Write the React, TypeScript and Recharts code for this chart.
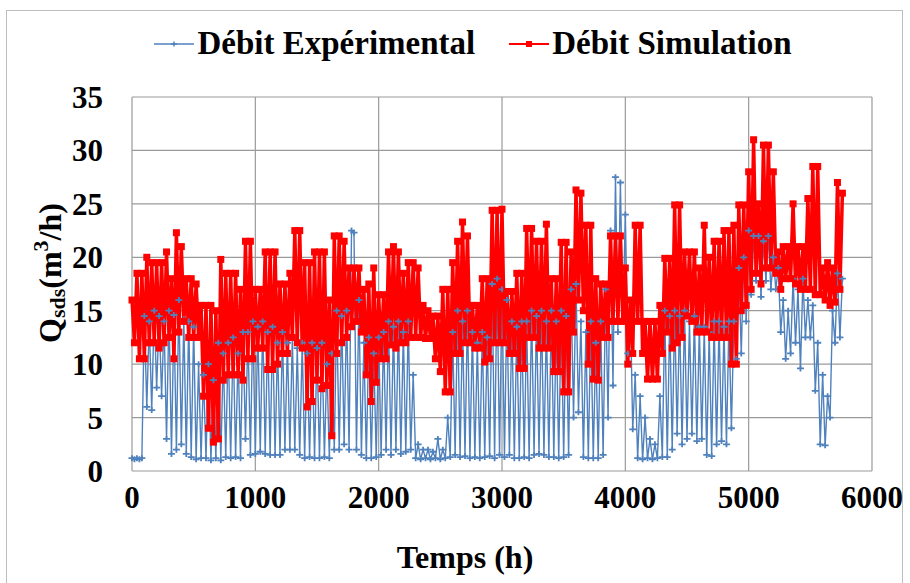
import { LineChart, Line, XAxis, YAxis, CartesianGrid, Legend, Label } from 'recharts';

// one reading every 20 h, from t = 0 h to t = 5760 h
const STEP_H = 20;

const debitSimulation = [
  16, 12, 18.5, 10.5, 18.5, 10.5, 20, 12, 19.5, 12,
  19.5, 11.5, 19.5, 12, 20.5, 12.5, 18, 10.5, 22.3, 13,
  21, 14, 18, 12.5, 18, 12.5, 17.5, 12.5, 15.5, 7,
  15.5, 4, 15.5, 2.7, 15, 3, 19.8, 8.5, 18.5, 9,
  18.5, 9, 18.5, 9, 17, 8.5, 21.5, 10.5, 21.5, 10.5,
  17, 11.5, 17, 11.5, 20.5, 9.5, 20.5, 9.5, 20.5, 10,
  17.5, 11, 17.5, 11, 18.5, 12.5, 22.5, 12, 22.5, 11.5,
  19.5, 6, 19.5, 6.5, 20.5, 8.5, 20.5, 7.7, 20.5, 8,
  16, 3.3, 22, 11, 22, 12, 21.5, 12.5, 19, 13.5,
  19, 14, 19, 13, 17, 9, 17.5, 6.5, 19, 8.3,
  16.5, 10.5, 16.5, 10.5, 20.5, 11.8, 21, 11.5, 20.5, 12,
  18.5, 12, 19.5, 12.5, 19.5, 12.5, 19, 12.5, 15.5, 12.4,
  15, 12.4, 14.5, 10.5, 14.5, 9.3, 17, 7.4, 17, 7.4,
  19.5, 11, 21.5, 11, 23.3, 12, 22, 12, 15.5, 11.5,
  15.5, 11.5, 18, 10.2, 18, 10.5, 24.4, 12, 24.4, 12,
  24.5, 12, 16.8, 11, 16.8, 11, 18.5, 9.6, 18.5, 9.6,
  22.7, 12.5, 22.7, 12.5, 21.5, 11.5, 21.5, 11.5, 23.1, 11.5,
  18, 9.3, 18, 9.3, 21.4, 7.4, 21.4, 7.4, 20.5, 13,
  26.3, 16, 26, 15, 23, 10, 23, 8.6, 18, 8.5,
  17.5, 12.5, 17.5, 12.5, 22, 14, 22, 14, 22, 14,
  19, 10, 16, 11, 23, 14, 23, 11, 14, 8.6,
  14, 8.6, 14, 8.6, 15.5, 11, 19.9, 13, 19.9, 11.5,
  24.9, 12, 24.9, 12.5, 20.5, 14.5, 20.5, 14, 20.5, 13,
  19, 13, 23, 13, 20, 12.5, 21.5, 12.5, 21.5, 12.5,
  22.5, 12.5, 22.5, 10, 23, 10, 24.9, 15, 24.9, 15.5,
  28, 17, 31, 18.5, 25, 17.5, 30.5, 19, 30.5, 19,
  28, 18.5, 20.5, 17, 21, 18, 21, 18, 25, 17.5,
  21, 17, 21, 17, 25.5, 17, 28.5, 16.5, 28.5, 16.5,
  19, 16, 19.5, 15.5, 19, 15.8, 27, 17, 26,
];

const debitExperimental = [
  1.2, 1.1, 1.2, 1.1, 1.2, 14.5, 6, 14, 5.7, 15,
  7.8, 14.5, 7, 14, 3, 15, 1.6, 14.6, 2, 16,
  2.5, 14.2, 1.6, 14, 1.3, 13.5, 1.1, 10, 1.2, 9,
  1.2, 10, 1, 8.5, 1.2, 12, 1, 11, 1.3, 12,
  1.2, 12.5, 1.3, 11, 1.2, 13, 3, 13, 1.5, 14,
  1.6, 13.5, 1.8, 14, 1.6, 13, 1.5, 13.5, 1.5, 12,
  1.5, 13, 2, 12, 2, 12.5, 2, 11.5, 1.5, 12,
  1.2, 11, 1.3, 12, 1.2, 11.5, 1.2, 12, 1.3, 10,
  1.2, 11, 2, 15, 2, 14.5, 2.5, 15, 2, 22.5,
  22.3, 2, 16, 1.5, 12, 1.2, 12.5, 1.2, 11, 1.3,
  12.5, 1.5, 13, 2, 14, 1.5, 13.5, 2, 14, 1.6,
  13, 1.8, 14, 2, 9, 1.2, 2.5, 1.1, 2, 1.2,
  2, 1.1, 1.8, 1.2, 3, 1.1, 2, 1.2, 5, 1.3,
  13, 1.5, 15, 1.3, 14, 1.4, 15, 1.2, 13, 1.3,
  12, 1.2, 13, 1.3, 12.5, 1.4, 17.5, 1.2, 18, 1.5,
  17, 1.3, 16, 1.5, 14, 1.2, 13.5, 1.2, 14, 1.3,
  14, 1.2, 15, 1.5, 14.5, 1.6, 15, 1.5, 14, 1.3,
  15, 1.3, 14, 1.2, 15, 1.3, 14.5, 1.5, 17, 5,
  17.5, 5.5, 14, 1.3, 13, 1.2, 14, 1.2, 12, 1.2,
  14, 1.5, 17, 5, 22.5, 8, 27.5, 13, 27, 14,
  24, 11, 16, 3.9, 9, 1.2, 7, 1.1, 5, 1.2,
  3, 1.1, 2.5, 1.2, 7, 1.3, 15, 1.3, 14.5, 2,
  15, 3.5, 14.5, 2.5, 15, 3, 14, 3.5, 14.5, 2.8,
  13.5, 3, 13.5, 1.5, 13, 1.4, 14, 2.5, 14, 2.8,
  13.5, 2.5, 14, 4, 14, 10.5, 19, 11, 20, 14,
  22.5, 16.5, 22, 17.8, 22, 16.3, 21.5, 17.8, 22, 17,
  20, 17, 19, 13, 16, 10.5, 15, 11, 18, 12,
  17, 9.6, 18, 12.5, 16, 12.5, 15.5, 7.5, 12, 2.5,
  9, 2.4, 7, 5, 15, 12, 18.5, 12.5, 18,
];

const xTicks = [0, 1000, 2000, 3000, 4000, 5000, 6000];
const yTicks = [0, 5, 10, 15, 20, 25, 30, 35];

const data = debitSimulation.map((sim, i) => ({
  t: i * STEP_H,
  sim,
  exp: debitExperimental[i],
}));

const FONT = "'Liberation Serif', 'Times New Roman', serif";
const BLUE = '#4f81bd';
const RED = '#ff0000';

const plusDot = (p: any) => (
  <path
    key={`e-${p.index}`}
    d={`M${p.cx - 3.5},${p.cy}L${p.cx + 3.5},${p.cy}M${p.cx},${p.cy - 3}L${p.cx},${p.cy + 3}`}
    stroke={BLUE}
    strokeWidth={1.8}
    fill="none"
  />
);

const squareDot = (p: any) => (
  <rect key={`s-${p.index}`} x={p.cx - 3.5} y={p.cy - 3.5} width={7} height={7} fill={RED} />
);

function LegendContent() {
  const item = (label: string, color: string, square: boolean) => (
    <div style={{ display: 'flex', alignItems: 'center', gap: 3 }}>
      <svg width={40} height={12}>
        <line x1={0} y1={6} x2={40} y2={6} stroke={color} strokeWidth={square ? 2 : 1.5} />
        {square ? (
          <rect x={17} y={3} width={6} height={6} fill={color} />
        ) : (
          <path d="M17,6L23,6M20,3.5L20,8.5" stroke={color} strokeWidth={1.5} />
        )}
      </svg>
      <span style={{ fontFamily: FONT, fontWeight: 'bold', fontSize: 33, color: '#000' }}>{label}</span>
    </div>
  );
  return (
    <div style={{ display: 'flex', justifyContent: 'center', gap: 34, paddingLeft: 36 }}>
      {item('Débit Expérimental', BLUE, false)}
      {item('Débit Simulation', RED, true)}
    </div>
  );
}

const yTitle = () => (
  <text
    x={50}
    y={273}
    transform="rotate(-90, 50, 273)"
    textAnchor="middle"
    dominantBaseline="central"
    fontFamily={FONT}
    fontWeight="bold"
    fontSize={32}
    fill="#000"
  >
    Q<tspan dy={7} fontSize={22}>sds</tspan>
    <tspan dy={-7}>(m</tspan>
    <tspan dy={-10} fontSize={22}>3</tspan>
    <tspan dy={10}>/h)</tspan>
  </text>
);

const xTitle = () => (
  <text
    x={465}
    y={557}
    textAnchor="middle"
    dominantBaseline="central"
    fontFamily={FONT}
    fontWeight="bold"
    fontSize={32}
    fill="#000"
  >
    Temps (h)
  </text>
);

export default function App() {
  const tickStyle = { fill: '#000', fontSize: 31, fontWeight: 'bold', fontFamily: FONT };
  return (
    <div style={{ position: 'absolute', left: 0, top: 0, width: 910, height: 583, background: '#fff' }}>
      <div
        style={{
          position: 'absolute',
          left: 6,
          top: 10,
          width: 897,
          height: 580,
          border: '1px solid #bdbdbd',
          boxSizing: 'border-box',
        }}
      />
      <LineChart width={910} height={583} data={data} margin={{ top: 97, right: 38, bottom: 0, left: 0 }}>
        <CartesianGrid stroke="#9a9a9a" strokeWidth={1.2} horizontalValues={yTicks} verticalValues={xTicks} />
        <XAxis
          dataKey="t"
          type="number"
          domain={[0, 6000]}
          ticks={xTicks}
          height={112}
          axisLine={false}
          tickLine={false}
          tickSize={0}
          tickMargin={15}
          tick={tickStyle}
          interval={0}
        >
          <Label content={xTitle} />
        </XAxis>
        <YAxis
          type="number"
          domain={[0, 35]}
          ticks={yTicks}
          width={132}
          axisLine={false}
          tickLine={false}
          tickSize={0}
          tickMargin={29}
          tick={tickStyle}
          interval={0}
        >
          <Label content={yTitle} />
        </YAxis>
        <Legend
          verticalAlign="middle"
          align="center"
          layout="horizontal"
          content={LegendContent}
          wrapperStyle={{ top: 25, left: 0, width: 910 }}
        />
        <Line
          dataKey="exp"
          name="Débit Expérimental"
          stroke={BLUE}
          strokeWidth={1.4}
          dot={plusDot}
          activeDot={false}
          isAnimationActive={false}
        />
        <Line
          dataKey="sim"
          name="Débit Simulation"
          stroke={RED}
          strokeWidth={3.5}
          dot={squareDot}
          activeDot={false}
          isAnimationActive={false}
        />
      </LineChart>
    </div>
  );
}
